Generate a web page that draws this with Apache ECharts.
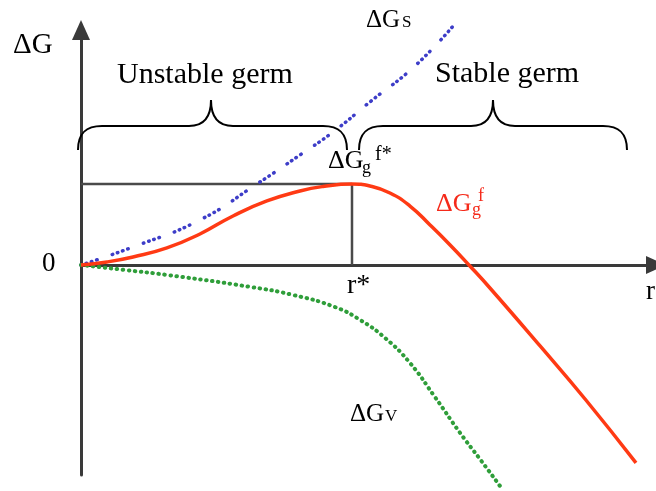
<!DOCTYPE html>
<html>
<head>
<meta charset="utf-8">
<script src="https://cdn.jsdelivr.net/npm/echarts@6/dist/echarts.min.js"></script>
<style>
  html, body { margin: 0; padding: 0; background: #ffffff; }
  #chart { width: 656px; height: 491px; }
</style>
</head>
<body>
<div id="chart"></div>
<script>
// Nucleation free energy versus germ radius r.
// Units: r is measured in multiples of the critical radius r*,
// ΔG in multiples of the barrier height ΔGg f*.

// Critical point (top of the barrier)
const rStar = 1.0;
const gStar = 1.0;

// Total free energy ΔGg f
const rTotal = [0, 0.096, 0.192, 0.317, 0.439, 0.561, 0.686, 0.808, 0.893, 1.0, 1.066, 1.140, 1.214, 1.288, 1.362, 1.435, 1.509, 1.694, 1.863, 2.048];
const gTotal = [0, 0.037, 0.099, 0.210, 0.383, 0.605, 0.790, 0.914, 0.969, 1.0, 0.975, 0.889, 0.728, 0.494, 0.247, -0.012, -0.284, -1.000, -1.667, -2.444];

// Surface term ΔGS
const rSurface = [0, 0.192, 0.439, 0.649, 0.808, 0.930, 1.066, 1.240, 1.395];
const gSurface = [0, 0.222, 0.556, 1.0, 1.358, 1.642, 2.012, 2.481, 3.037];

// Volume term ΔGV
const rVolume = [0, 0.162, 0.317, 0.627, 0.782, 0.937, 1.030, 1.122, 1.214, 1.306, 1.399, 1.472, 1.546];
const gVolume = [0, -0.062, -0.123, -0.272, -0.370, -0.519, -0.679, -0.901, -1.210, -1.630, -2.074, -2.395, -2.728];

const pairs = (xs, ys) => xs.map((x, i) => [x, ys[i]]);

const SERIF = "'Liberation Serif', 'Times New Roman', serif";

function txt(text, x, y, size, color) {
  return {
    type: 'text',
    silent: true,
    z: 100,
    style: {
      text: text, x: x, y: y,
      font: size + 'px ' + SERIF,
      fill: color || '#000000',
      align: 'left', textAlign: 'left',
      verticalAlign: 'middle', textVerticalAlign: 'middle'
    }
  };
}

const braceStroke = { fill: null, stroke: '#000000', lineWidth: 2 };

function curve(x1, y1, c1x, c1y, c2x, c2y, x2, y2) {
  return {
    type: 'bezierCurve', silent: true, z: 100,
    shape: { x1: x1, y1: y1, cpx1: c1x, cpy1: c1y, cpx2: c2x, cpy2: c2y, x2: x2, y2: y2 },
    style: braceStroke
  };
}

function seg(x1, y1, x2, y2) {
  return {
    type: 'line', silent: true, z: 100,
    shape: { x1: x1, y1: y1, x2: x2, y2: y2 },
    style: braceStroke
  };
}

// Curly brace opening downward, spanning xL..xR with its tip at xm pointing up
function brace(xL, xR, xm, yTip, yBar, yEnd) {
  return [
    curve(xL, yEnd, xL, yBar + 7, xL + 8, yBar, xL + 24, yBar),
    seg(xL + 24, yBar, xm - 22, yBar),
    curve(xm - 22, yBar, xm - 8, yBar, xm, yBar - 8, xm, yTip),
    curve(xm, yTip, xm, yBar - 8, xm + 8, yBar, xm + 22, yBar),
    seg(xm + 22, yBar, xR - 24, yBar),
    curve(xR - 24, yBar, xR - 8, yBar, xR, yBar + 7, xR, yEnd)
  ];
}

const chart = echarts.init(document.getElementById('chart'), null, { renderer: 'canvas' });

const axisLineStyle = { color: '#3a3a3a', width: 3 };

chart.setOption({
  animation: false,
  backgroundColor: '#ffffff',
  grid: { left: 81, top: 30, width: 575, height: 445 },
  xAxis: {
    type: 'value', min: 0, max: 2.1218,
    axisLine: { show: true, onZero: true, symbol: ['none', 'triangle'], symbolSize: [18, 20], lineStyle: axisLineStyle },
    axisTick: { show: false }, axisLabel: { show: false }, splitLine: { show: false }
  },
  yAxis: {
    type: 'value', min: -2.593, max: 2.901,
    axisLine: { show: true, onZero: true, symbol: ['none', 'triangle'], symbolSize: [18, 20], lineStyle: axisLineStyle },
    axisTick: { show: false }, axisLabel: { show: false }, splitLine: { show: false }
  },
  series: [
    {
      name: 'critical', type: 'line', silent: true, symbol: 'none', clip: false, z: 2,
      data: [[0, gStar], [rStar, gStar], [rStar, 0]],
      lineStyle: { color: '#4a4a4a', width: 2.5 }
    },
    {
      name: 'ΔGS', type: 'line', silent: true, symbol: 'none', clip: false, smooth: 0.5, z: 3,
      data: pairs(rSurface, gSurface),
      lineStyle: { color: '#3d3dc8', width: 3.5, cap: 'round', type: [0.5, 5, 0.5, 5, 0.5, 5, 0.5, 16] }
    },
    {
      name: 'ΔGV', type: 'line', silent: true, symbol: 'none', clip: false, smooth: 0.5, z: 3,
      data: pairs(rVolume, gVolume),
      lineStyle: { color: '#2f9e3a', width: 4, cap: 'round', type: [0.5, 5.5] }
    },
    {
      name: 'ΔGg f', type: 'line', silent: true, symbol: 'none', clip: false, smooth: 0.5, z: 4,
      data: pairs(rTotal, gTotal),
      lineStyle: { color: '#ff3a14', width: 3.5 }
    }
  ],
  graphic: [].concat(
    brace(78, 347, 211, 100, 126, 150),
    brace(359, 627, 493, 100, 126, 150),
    [
      txt('ΔG', 13, 45, 29),
      txt('Unstable germ', 117, 75, 30),
      txt('Stable germ', 435, 74, 30),
      txt('ΔG', 366, 20, 25),
      txt('S', 402, 23, 17),
      txt('ΔG', 328, 161, 26),
      txt('g', 362, 168, 18),
      txt('f*', 375, 155, 20),
      txt('ΔG', 436, 204, 26, '#f52a1a'),
      txt('g', 472, 210, 18, '#f52a1a'),
      txt('f', 478, 196, 18, '#f52a1a'),
      txt('0', 42, 264, 27),
      txt('r*', 347, 286, 28),
      txt('r', 646, 292, 27),
      txt('ΔG', 350, 414, 25),
      txt('V', 385, 417, 17)
    ]
  )
});
</script>
</body>
</html>
